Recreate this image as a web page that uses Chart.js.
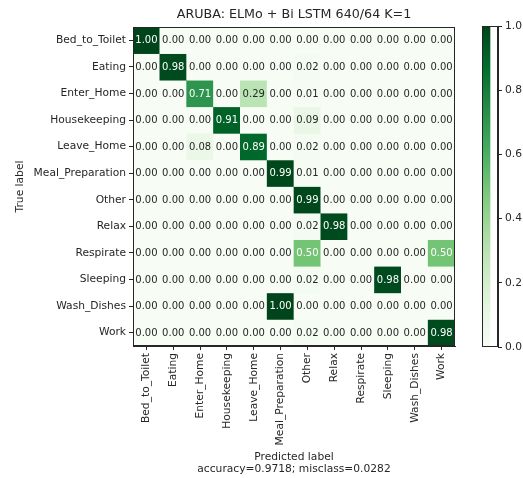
<!DOCTYPE html>
<html>
<head>
<meta charset="utf-8">
<script src="https://cdn.jsdelivr.net/npm/chart.js@4"></script>
<style>
  body { margin: 0; background: #fff; }
  #wrap { position: relative; width: 523px; height: 478px; }
  canvas { position: absolute; }
</style>
</head>
<body>
<div id="wrap">
  <canvas id="cm" width="523" height="478" style="left:0;top:0"></canvas>
  <canvas id="cbar" width="53" height="478" style="left:470px;top:0"></canvas>
</div>
<script>
const classes = ["Bed_to_Toilet", "Eating", "Enter_Home", "Housekeeping", "Leave_Home",
  "Meal_Preparation", "Other", "Relax", "Respirate", "Sleeping", "Wash_Dishes", "Work"];

// normalized confusion matrix, rows = true label, cols = predicted label
const cm = [
  [1.00, 0.00, 0.00, 0.00, 0.00, 0.00, 0.00, 0.00, 0.00, 0.00, 0.00, 0.00],
  [0.00, 0.98, 0.00, 0.00, 0.00, 0.00, 0.02, 0.00, 0.00, 0.00, 0.00, 0.00],
  [0.00, 0.00, 0.71, 0.00, 0.29, 0.00, 0.01, 0.00, 0.00, 0.00, 0.00, 0.00],
  [0.00, 0.00, 0.00, 0.91, 0.00, 0.00, 0.09, 0.00, 0.00, 0.00, 0.00, 0.00],
  [0.00, 0.00, 0.08, 0.00, 0.89, 0.00, 0.02, 0.00, 0.00, 0.00, 0.00, 0.00],
  [0.00, 0.00, 0.00, 0.00, 0.00, 0.99, 0.01, 0.00, 0.00, 0.00, 0.00, 0.00],
  [0.00, 0.00, 0.00, 0.00, 0.00, 0.00, 0.99, 0.00, 0.00, 0.00, 0.00, 0.00],
  [0.00, 0.00, 0.00, 0.00, 0.00, 0.00, 0.02, 0.98, 0.00, 0.00, 0.00, 0.00],
  [0.00, 0.00, 0.00, 0.00, 0.00, 0.00, 0.50, 0.00, 0.00, 0.00, 0.00, 0.50],
  [0.00, 0.00, 0.00, 0.00, 0.00, 0.00, 0.02, 0.00, 0.00, 0.98, 0.00, 0.00],
  [0.00, 0.00, 0.00, 0.00, 0.00, 1.00, 0.00, 0.00, 0.00, 0.00, 0.00, 0.00],
  [0.00, 0.00, 0.00, 0.00, 0.00, 0.00, 0.02, 0.00, 0.00, 0.00, 0.00, 0.98]
];

const titleText = "ARUBA: ELMo + Bi LSTM 640/64 K=1";
const xTitle = ["Predicted label", "accuracy=0.9718; misclass=0.0282"];
const yTitle = "True label";

// matplotlib "Greens"
const greens = ["#f7fcf5", "#e5f5e0", "#c7e9c0", "#a1d99b", "#74c476",
  "#41ab5d", "#238b45", "#006d2c", "#00441b"];

function hexRgb(h) {
  return [1, 3, 5].map(i => parseInt(h.slice(i, i + 2), 16));
}
function greenAt(v) {
  const t = Math.max(0, Math.min(1, v)) * (greens.length - 1);
  const i = Math.min(Math.floor(t), greens.length - 2);
  const f = t - i;
  const a = hexRgb(greens[i]), b = hexRgb(greens[i + 1]);
  const c = a.map((x, k) => Math.round(x + (b[k] - x) * f));
  return `rgb(${c[0]},${c[1]},${c[2]})`;
}

const FONT = "'DejaVu Sans', sans-serif";
const INK = "#262626";
const LBL = 10.7;
Chart.defaults.font.family = FONT;
Chart.defaults.color = INK;

// frame round the chart area
const framePlugin = {
  id: "frame",
  afterDraw(chart) {
    const a = chart.chartArea, ctx = chart.ctx;
    ctx.save();
    ctx.strokeStyle = INK;
    ctx.lineWidth = 1;
    ctx.strokeRect(Math.round(a.left) + 0.5, Math.round(a.top) + 0.5,
      Math.round(a.right - a.left) - 1, Math.round(a.bottom - a.top) - 1);
    ctx.restore();
  }
};

// numbers in the cells
const cellText = {
  id: "cellText",
  afterDatasetsDraw(chart) {
    const ctx = chart.ctx;
    ctx.save();
    ctx.font = "10px " + FONT;
    ctx.textAlign = "center";
    ctx.textBaseline = "middle";
    chart.data.datasets.forEach((ds, i) => {
      const meta = chart.getDatasetMeta(i);
      meta.data.forEach((bar, j) => {
        const v = cm[i][j];
        ctx.fillStyle = v >= 0.5 ? "#fff" : INK;
        ctx.fillText(v.toFixed(2), bar.x, (bar.y + bar.base) / 2 + 0.5);
      });
    });
    ctx.restore();
  }
};

const datasets = cm.map((row, i) => ({
  label: classes[i],
  data: row.map(() => [i, i + 1]),
  backgroundColor: row.map(v => greenAt(v)),
  borderWidth: 0,
  borderSkipped: false,
  barPercentage: 1,
  categoryPercentage: 1
}));

new Chart(document.getElementById("cm"), {
  type: "bar",
  data: { labels: classes, datasets },
  plugins: [cellText, framePlugin],
  options: {
    responsive: false,
    animation: false,
    layout: { padding: { left: 8, right: 68, top: 0, bottom: 0 } },
    plugins: {
      legend: { display: false },
      tooltip: { enabled: false },
      title: {
        display: true,
        fullSize: false,
        text: titleText,
        color: INK,
        font: { size: 12.7, weight: "normal", family: FONT },
        padding: { top: 7.5, bottom: 4.3 }
      }
    },
    scales: {
      x: {
        stacked: true,
        offset: true,
        ticks: { autoSkip: false, maxRotation: 90, minRotation: 90, font: { size: LBL }, padding: 3, color: INK },
        grid: { offset: false, drawOnChartArea: false, tickLength: 4, color: INK },
        border: { display: true, color: INK },
        title: { display: true, text: xTitle, font: { size: LBL, lineHeight: 1.1 }, padding: { top: 0, bottom: 3 }, color: INK },
        afterFit(scale) { scale.height = 132; }
      },
      y: {
        type: "linear",
        reverse: true,
        min: 0,
        max: classes.length,
        afterBuildTicks(scale) {
          scale.ticks = classes.map((_, i) => ({ value: i + 0.5 }));
        },
        ticks: {
          autoSkip: false,
          font: { size: LBL },
          padding: 3,
          color: INK,
          callback: v => classes[Math.floor(v)]
        },
        grid: { drawOnChartArea: false, tickLength: 4, color: INK },
        border: { display: true, color: INK },
        title: { display: true, text: yTitle, font: { size: LBL }, padding: 6, color: INK },
        afterFit(scale) { scale.width = 125; }
      }
    }
  }
});

// colorbar
new Chart(document.getElementById("cbar"), {
  type: "bar",
  data: {
    labels: [""],
    datasets: [{
      data: [[0, 1]],
      borderWidth: 0,
      borderSkipped: false,
      barPercentage: 1,
      categoryPercentage: 1,
      backgroundColor(ctx) {
        const a = ctx.chart.chartArea;
        if (!a) return greens[4];
        const g = ctx.chart.ctx.createLinearGradient(0, a.bottom, 0, a.top);
        greens.forEach((c, k) => g.addColorStop(k / (greens.length - 1), c));
        return g;
      }
    }]
  },
  plugins: [framePlugin],
  options: {
    responsive: false,
    animation: false,
    layout: { padding: { left: 12, right: 0, top: 26, bottom: 131 } },
    plugins: { legend: { display: false }, tooltip: { enabled: false } },
    scales: {
      x: { display: false, offset: false },
      y: {
        position: "right",
        min: 0,
        max: 1,
        ticks: { stepSize: 0.2, font: { size: LBL }, padding: 3, color: INK, callback: v => v.toFixed(1) },
        grid: { drawOnChartArea: false, tickLength: 4, color: INK },
        border: { display: true, color: INK },
        afterFit(scale) { scale.width = 25; }
      }
    }
  }
});
</script>
</body>
</html>
